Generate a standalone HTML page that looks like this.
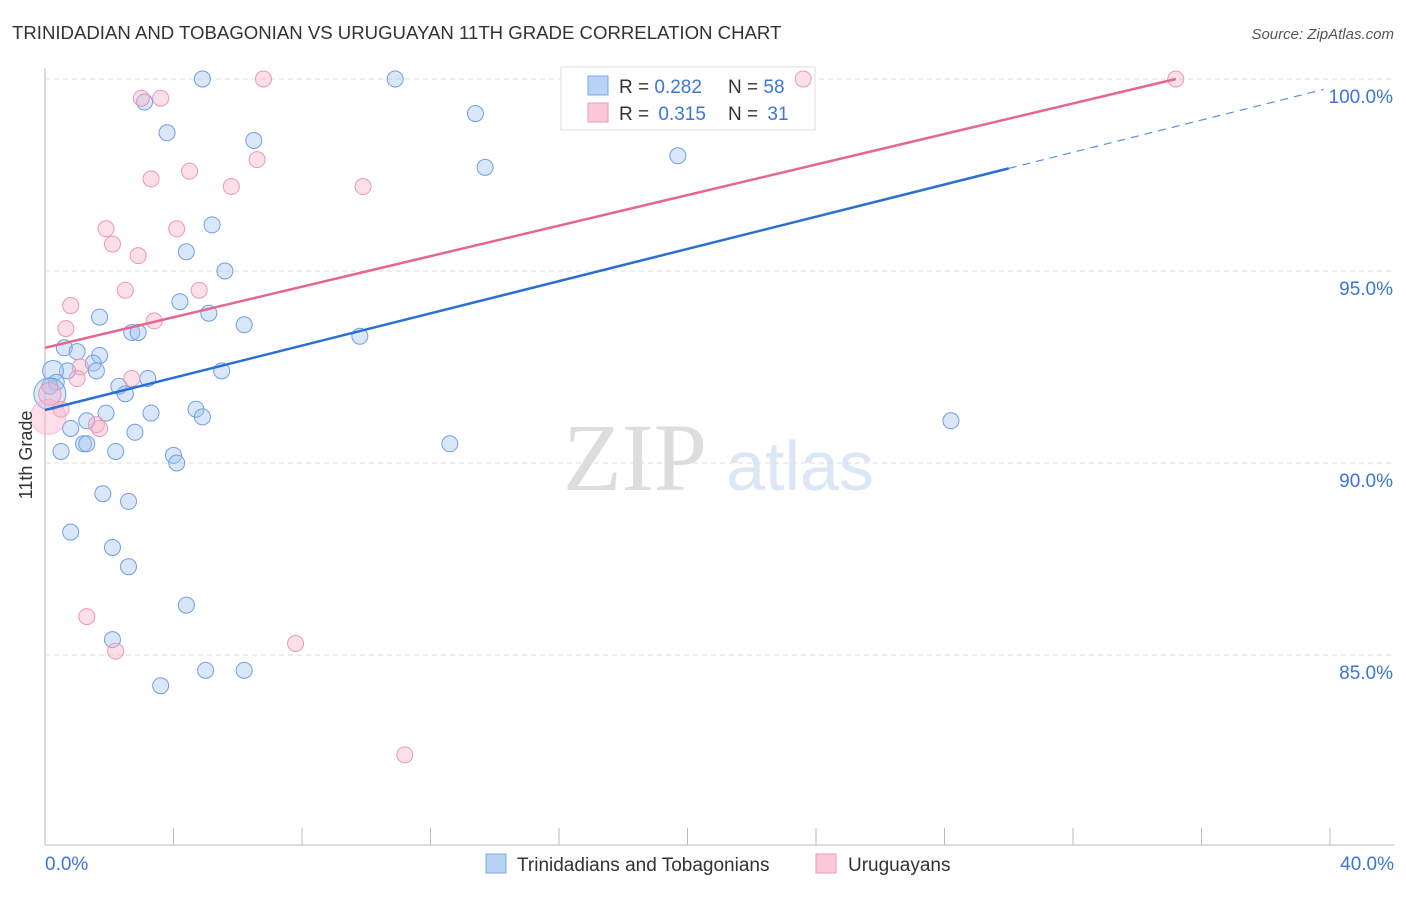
<!DOCTYPE html>
<html><head><meta charset="utf-8"><style>
body{margin:0;background:#fff;font-family:"Liberation Sans",sans-serif;}
svg text{font-family:"Liberation Sans",sans-serif;}
</style></head><body>
<svg id="c" width="1406" height="892" xmlns="http://www.w3.org/2000/svg">
<text x="12" y="39" font-size="18.6" fill="#333">TRINIDADIAN AND TOBAGONIAN VS URUGUAYAN 11TH GRADE CORRELATION CHART</text>
<text x="1394" y="39" font-size="15" fill="#555" text-anchor="end" font-style="italic">Source: ZipAtlas.com</text>
<text x="635" y="490" font-size="96" fill="#ddd" text-anchor="middle" style="font-family:'Liberation Serif',serif">ZIP</text>
<text x="800" y="490" font-size="70" fill="#dbe7f5" text-anchor="middle">atlas</text>
<g id="grid"></g><g id="axes"></g>
<g>
<rect x="561" y="67" width="254" height="63" fill="#fff" stroke="#ddd"/>
<rect x="588" y="76" width="20" height="19" fill="#b8d3f5" stroke="#7aa7e6"/>
<rect x="588" y="103" width="20" height="19" fill="#fac8d8" stroke="#ee9ab7"/>
<text x="619" y="93" font-size="19" fill="#333">R = <tspan fill="#3d74d6">0.282</tspan></text>
<text x="728" y="93" font-size="19" fill="#333">N = <tspan fill="#3d74d6">58</tspan></text>
<text x="619" y="120" font-size="19" fill="#333">R = <tspan fill="#3d74d6" dx="4">0.315</tspan></text>
<text x="728" y="120" font-size="19" fill="#333">N = <tspan fill="#3d74d6" dx="4">31</tspan></text>
</g>
<g id="pts"></g><g id="lines"></g>
<text x="32" y="455" font-size="18" fill="#333" text-anchor="middle" transform="rotate(-90 32 455)">11th Grade</text>
<g>
<rect x="486" y="854" width="20" height="19" fill="#b8d3f5" stroke="#7aa7e6"/>
<text x="517" y="871" font-size="19" fill="#333">Trinidadians and Tobagonians</text>
<rect x="816" y="854" width="20" height="19" fill="#fac8d8" stroke="#ee9ab7"/>
<text x="848" y="871" font-size="19" fill="#333">Uruguayans</text>
</g>
<text x="45" y="870" font-size="19" fill="#3d74d6">0.0%</text>
<text x="1394" y="870" font-size="19" fill="#3d74d6" text-anchor="end">40.0%</text>
</svg>
<script>
const blueX=[4.9,10.9,3.1,3.8,13.4,6.5,13.7,19.7,5.2,4.4,5.6,4.2,1.7,5.1,6.2,2.7,2.9,9.8,0.6,1.0,1.7,1.5,0.7,1.6,0.25,5.5,3.2,0.35,0.15,2.3,2.5,1.9,3.3,4.7,4.9,1.3,0.8,2.8,1.2,1.3,12.6,0.5,2.2,4.0,4.1,28.2,1.8,2.6,0.8,2.1,2.6,4.4,2.1,5.0,6.2,3.6,0.15];
const blueY=[100,100,99.4,98.6,99.1,98.4,97.7,98.0,96.2,95.5,95.0,94.2,93.8,93.9,93.6,93.4,93.4,93.3,93.0,92.9,92.8,92.6,92.4,92.4,92.4,92.4,92.2,92.1,92.0,92.0,91.8,91.3,91.3,91.4,91.2,91.1,90.9,90.8,90.5,90.5,90.5,90.3,90.3,90.2,90.0,91.1,89.2,89.0,88.2,87.8,87.3,86.3,85.4,84.6,84.6,84.2,91.8];
const blueSize=[1,1,1,1,1,1,1,1,1,1,1,1,1,1,1,1,1,1,1,1,1,1,1,1,1.3,1,1,1,1,1,1,1,1,1,1,1,1,1,1,1,1,1,1,1,1,1,1,1,1,1,1,1,1,1,1,1,2];
const pinkX=[3.0,3.6,6.8,23.6,35.2,6.6,3.3,4.5,5.8,9.9,1.9,4.1,2.1,2.9,2.5,4.8,0.8,3.4,0.65,1.1,2.7,1.0,0.15,0.5,1.6,1.7,0.1,1.3,2.2,7.8,11.2];
const pinkY=[99.5,99.5,100,100,100,97.9,97.4,97.6,97.2,97.2,96.1,96.1,95.7,95.4,94.5,94.5,94.1,93.7,93.5,92.5,92.2,92.2,91.8,91.4,91.0,90.9,91.2,86.0,85.1,85.3,82.4];
const pinkSize=[1,1,1,1,1,1,1,1,1,1,1,1,1,1,1,1,1,1,1,1,1,1,1.4,1,1,1,2.2,1,1,1,1];
const yTicks=[100,95,90,85];
const blueLine=[91.38,99.77], pinkLine=[93.0,100], pinkEndX=35.2, blueSolidEnd=30.0;
const NS="http://www.w3.org/2000/svg";
const X=v=>45+v/40*1285, Y=v=>79+(100-v)*38.4;
function mk(t,a,p){const e=document.createElementNS(NS,t);for(const k in a)e.setAttribute(k,a[k]);p.appendChild(e);return e;}
const grid=document.getElementById('grid');
yTicks.forEach(v=>{
 const l=mk('line',{x1:45,x2:1394,y1:Y(v),y2:Y(v),stroke:'#ddd','stroke-dasharray':'5,4'},grid);
 
 
 const t=mk('text',{x:1393,y:Y(v)+24,'font-size':19,fill:'#3d74d6','text-anchor':'end'},grid);
 t.textContent=v.toFixed(1)+'%';
 
 
});
const ax=document.getElementById('axes');
const yl=mk('line',{x1:45,x2:45,y1:68,y2:845,stroke:'#bbb'},ax);


const xl=mk('line',{x1:45,x2:1394,y1:845,y2:845,stroke:'#bbb'},ax);


for(let i=0;i<=10;i++){const t=mk('line',{x1:X(i*4),x2:X(i*4),y1:828,y2:845,stroke:'#bbb'},ax);
 
 }
const pts=document.getElementById('pts');
blueX.forEach((v,i)=>{const c=mk('circle',{cx:X(v),cy:Y(blueY[i]),r:8*blueSize[i],fill:'rgba(160,196,240,0.4)',stroke:'#6f9fe2','stroke-width':1},pts);
 
 });
pinkX.forEach((v,i)=>{const c=mk('circle',{cx:X(v),cy:Y(pinkY[i]),r:8*pinkSize[i],fill:'rgba(247,175,200,0.4)',stroke:'#ec97b6','stroke-width':1,'stroke-opacity':pinkSize[i]>2?0.5:1},pts);
 
 });
const ln=document.getElementById('lines');
const bAt=x=>blueLine[0]+(blueLine[1]-blueLine[0])*x/40;
const b1=mk('line',{x1:X(0),y1:Y(bAt(0)),x2:X(blueSolidEnd),y2:Y(bAt(blueSolidEnd)),stroke:'#2a6fd6','stroke-width':2.5},ln);


const b2=mk('line',{x1:X(blueSolidEnd),y1:Y(bAt(blueSolidEnd)),x2:X(39.8),y2:Y(bAt(39.8)),stroke:'#5a8fe0','stroke-width':1.2,'stroke-dasharray':'8,6'},ln);


const p1=mk('line',{x1:X(0),y1:Y(pinkLine[0]),x2:X(pinkEndX),y2:Y(pinkLine[1]),stroke:'#e5668f','stroke-width':2.5},ln);


</script>
</body></html>
